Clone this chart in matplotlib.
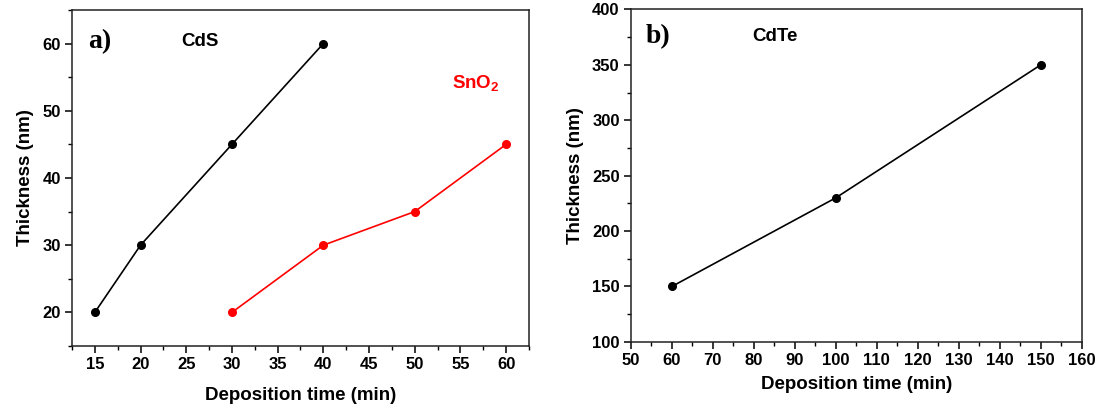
import numpy as np
import matplotlib.pyplot as plt
from matplotlib.ticker import MultipleLocator

plt.rcParams['font.family'] = ['Liberation Sans', 'DejaVu Sans']
plt.rcParams['font.weight'] = 'bold'
plt.rcParams['mathtext.fontset'] = 'custom'
plt.rcParams['mathtext.bf'] = 'Liberation Sans:bold'

# Panel a) data
cds_time = [15, 20, 30, 40]
cds_thick = [20, 30, 45, 60]
sno2_time = [30, 40, 50, 60]
sno2_thick = [20, 30, 35, 45]

# Panel b) data
cdte_time = [60, 100, 150]
cdte_thick = [150, 230, 350]

fig = plt.figure(figsize=(10.99, 4.08), dpi=100)
axA = fig.add_axes([0.0655, 0.152, 0.4158, 0.8235])
axB = fig.add_axes([0.574, 0.162, 0.4104, 0.815])


def style_axes(ax):
    for s in ax.spines.values():
        s.set_linewidth(1.1)
        s.set_color('#222222')
    ax.tick_params(which='major', direction='out', length=5, width=1.1,
                   labelsize=12, pad=3)
    ax.tick_params(which='minor', direction='out', length=3, width=1.0)
    for lbl in ax.get_xticklabels() + ax.get_yticklabels():
        lbl.set_fontweight('bold')
    ax.set_xlabel('Deposition time (min)', fontsize=13.5, fontweight='bold')
    ax.set_ylabel('Thickness (nm)', fontsize=13.5, fontweight='bold')


axA.plot(cds_time, cds_thick, color='black', lw=1.2, marker='o', ms=5.5)
axA.plot(sno2_time, sno2_thick, color='red', lw=1.2, marker='o', ms=5.5)
axA.set_xlim(12.5, 62.5)
axA.set_ylim(15, 65)
axA.set_xticks(np.arange(15, 61, 5))
axA.set_yticks(np.arange(20, 61, 10))
axA.xaxis.set_minor_locator(MultipleLocator(2.5))
axA.yaxis.set_minor_locator(MultipleLocator(5))
style_axes(axA)
axA.xaxis.labelpad = 11
axA.yaxis.labelpad = 6
axA.text(0.035, 0.905, 'a)', transform=axA.transAxes, fontsize=20,
         fontweight='bold', family='Liberation Serif', va='center')
axA.text(0.28, 0.905, 'CdS', transform=axA.transAxes, fontsize=13.5,
         fontweight='bold', ha='center', va='center')
axA.text(0.884, 0.78, 'SnO$_\\mathbf{2}$', transform=axA.transAxes, fontsize=13.5,
         fontweight='bold', ha='center', va='center', color='red')

axB.plot(cdte_time, cdte_thick, color='black', lw=1.2, marker='o', ms=5.5)
axB.set_xlim(50, 160)
axB.set_ylim(100, 400)
axB.set_xticks(np.arange(50, 161, 10))
axB.set_yticks(np.arange(100, 401, 50))
axB.xaxis.set_minor_locator(MultipleLocator(5))
axB.yaxis.set_minor_locator(MultipleLocator(25))
style_axes(axB)
axB.xaxis.labelpad = 6
axB.yaxis.labelpad = 6
axB.text(0.033, 0.917, 'b)', transform=axB.transAxes, fontsize=20,
         fontweight='bold', family='Liberation Serif', va='center')
axB.text(0.32, 0.917, 'CdTe', transform=axB.transAxes, fontsize=13.5,
         fontweight='bold', ha='center', va='center')

fig.savefig('out.png', dpi=100)
